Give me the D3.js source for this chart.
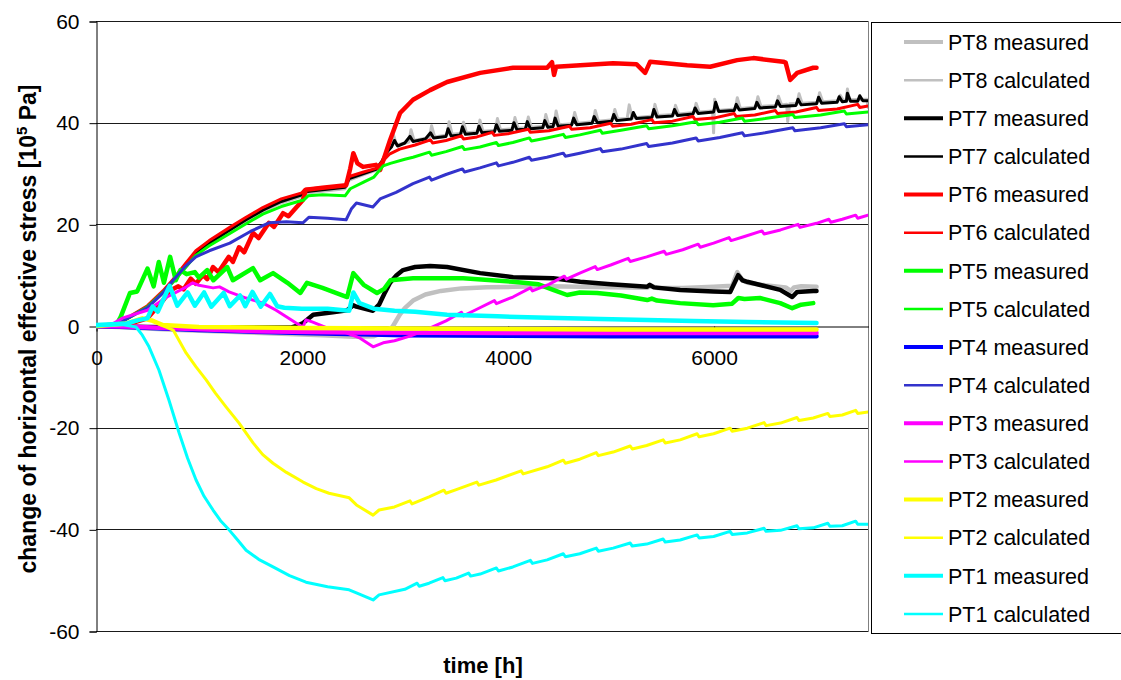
<!DOCTYPE html>
<html>
<head>
<meta charset="utf-8">
<script src="https://cdn.jsdelivr.net/npm/d3@7"></script>
<style>
  html, body { margin: 0; padding: 0; background: #fff; }
  svg { display: block; font-family: "Liberation Sans", Arial, sans-serif; }
</style>
</head>
<body>
<svg id="chart" width="1121" height="680"></svg>
<script>
// ---- data: [time h, change of horizontal effective stress 1e5 Pa] ----
const xTicks = [0, 2000, 4000, 6000];
const yTicks = [-60, -40, -20, 0, 20, 40, 60];

const pt8Measured = [[0,0],[300,-0.3],[800,-0.8],[1500,-1.3],[2200,-1.8],[2500,-2.1],[2700,-2.0],[2800,-1.2],[2880,-0.2],[2950,2.2],[3000,3.5],[3080,5.0],[3200,6.2],[3350,6.9],[3550,7.4],[3800,7.6],[4050,7.7],[4400,7.8],[4700,7.7],[5000,7.6],[5350,7.5],[5400,7.9],[5450,7.5],[5700,7.5],[6000,7.7],[6180,7.9],[6230,10.6],[6280,9.0],[6330,8.5],[6500,8.0],[6700,7.6],[6750,6.9],[6780,7.6],[6850,7.8],[7000,7.7]];

const pt8Calculated = [[0,0],[200,0.3],[330,1.7],[500,3.6],[650,6.4],[750,8.6],[870,11.5],[970,14.0],[1100,16.0],[1300,18.6],[1450,20.5],[1620,22.5],[1800,24.2],[2000,25.5],[2030,26.1],[2200,26.5],[2420,27.0],[2460,28.7],[2600,29.8],[2720,30.6],[2780,32.4],[2830,34.3],[2870,35.4],[2890,37.6],[2920,35.6],[3040,36.2],[3060,38.6],[3090,36.5],[3240,37.1],[3260,39.4],[3290,37.2],[3410,37.6],[3430,40.2],[3460,37.7],[3550,37.9],[3570,40.1],[3600,38.0],[3710,38.2],[3730,40.5],[3760,38.3],[3880,38.5],[3900,40.8],[3930,38.6],[4050,38.8],[4070,41.0],[4100,38.9],[4180,39.0],[4200,41.1],[4230,39.1],[4350,39.3],[4370,41.6],[4400,39.4],[4450,39.5],[4470,42.3],[4500,39.6],[4630,39.8],[4650,42.0],[4680,39.9],[4830,40.2],[4850,42.4],[4880,40.3],[5020,40.6],[5040,42.6],[5070,40.7],[5160,40.8],[5180,43.5],[5210,40.9],[5410,41.3],[5430,43.6],[5460,41.4],[5610,41.6],[5630,43.4],[5660,41.7],[5810,42.0],[5830,43.8],[5860,42.1],[5990,42.3],[6000,38.0],[6010,44.6],[6040,42.4],[6210,42.7],[6230,44.9],[6260,42.8],[6410,43.1],[6430,45.1],[6460,43.2],[6610,43.4],[6630,45.2],[6660,43.5],[6710,43.6],[6720,40.2],[6740,43.7],[6810,43.7],[6830,45.7],[6860,43.8],[7010,44.0],[7030,45.9],[7060,44.1],[7210,44.3],[7230,45.4],[7260,44.4],[7290,44.4],[7300,46.6],[7320,44.5],[7490,44.6],[7500,43.0]];

const pt7Measured = [[0,0],[500,-0.2],[1000,-0.3],[1900,-0.3],[1950,0],[2012,0.6],[2110,2.2],[2300,2.7],[2440,3.1],[2500,4.1],[2530,3.8],[2690,3.0],[2750,4.2],[2800,6.3],[2857,8.5],[2920,10.0],[2983,11.0],[3100,11.6],[3246,11.8],[3411,11.6],[3732,10.4],[4052,9.6],[4441,9.4],[4704,8.7],[5000,8.2],[5355,7.7],[5380,8.1],[5420,7.6],[5675,7.1],[6000,6.8],[6161,6.7],[6239,10.0],[6280,9.0],[6327,8.7],[6647,7.1],[6764,5.7],[6812,6.7],[6968,6.9],[7000,6.9]];

const pt7Calculated = [[0,0],[200,0.3],[330,1.8],[500,3.8],[650,6.6],[750,8.8],[870,11.8],[970,14.3],[1100,16.3],[1300,18.9],[1450,20.8],[1620,22.8],[1800,24.5],[2000,25.8],[2030,26.4],[2200,26.8],[2420,27.3],[2460,29.0],[2600,30.0],[2720,30.8],[2780,32.5],[2830,34.3],[2870,35.2],[2900,36.5],[2930,35.4],[3000,36.0],[3050,37.3],[3080,36.3],[3200,36.8],[3250,38.0],[3280,37.0],[3400,37.3],[3420,38.8],[3450,37.4],[3540,37.6],[3560,39.2],[3590,37.7],[3700,37.9],[3720,39.3],[3750,38.0],[3870,38.2],[3890,39.6],[3920,38.3],[4040,38.5],[4060,40.0],[4090,38.6],[4170,38.7],[4190,40.2],[4220,38.8],[4340,39.0],[4360,40.4],[4390,39.1],[4440,39.2],[4460,40.9],[4490,39.3],[4620,39.5],[4640,40.9],[4670,39.6],[4820,39.9],[4840,41.2],[4870,40.0],[5010,40.3],[5030,41.6],[5060,40.4],[5200,40.7],[5220,42.0],[5250,40.8],[5400,41.0],[5420,42.6],[5450,41.1],[5600,41.3],[5620,42.6],[5650,41.4],[5800,41.7],[5820,42.9],[5850,41.8],[6000,42.1],[6020,44.0],[6050,42.2],[6200,42.4],[6220,43.6],[6250,42.5],[6400,42.8],[6420,44.0],[6450,42.9],[6600,43.1],[6620,44.3],[6650,43.2],[6800,43.4],[6820,44.6],[6850,43.5],[7000,43.7],[7020,45.0],[7050,43.8],[7200,44.0],[7220,45.1],[7250,44.1],[7290,44.2],[7300,45.8],[7330,44.2],[7400,44.2],[7420,45.3],[7450,44.3],[7500,44.3]];

const pt6Measured = [[0,0],[300,0.3],[500,1.5],[650,5.0],[720,7.0],[800,7.8],[850,7.2],[920,9.3],[970,8.3],[1040,10.0],[1080,9.2],[1137,11.6],[1190,10.6],[1290,13.6],[1330,12.6],[1390,15.5],[1440,14.5],[1526,18.3],[1580,17.3],[1680,20.3],[1730,19.5],[1817,22.2],[1870,21.6],[2010,24.8],[2040,26.8],[2200,27.2],[2430,27.7],[2470,31.0],[2500,34.0],[2540,32.0],[2594,31.3],[2720,31.7],[2760,30.7],[2857,36.6],[2954,41.9],[3080,44.5],[3246,46.4],[3411,48.0],[3732,49.8],[4052,50.8],[4383,50.8],[4430,51.9],[4450,49.4],[4470,51.0],[4704,51.3],[5024,51.7],[5250,51.5],[5335,49.8],[5384,52.0],[5743,51.3],[5967,51.0],[6229,52.3],[6385,52.7],[6676,52.0],[6700,51.8],[6744,48.4],[6812,49.8],[6968,50.8],[7000,50.8]];

const pt6Calculated = [[0,0],[200,0.3],[330,1.9],[500,4.0],[650,6.9],[750,9.2],[870,12.3],[970,14.8],[1100,16.8],[1300,19.4],[1450,21.3],[1620,23.3],[1800,25.0],[2000,26.2],[2030,26.9],[2200,27.2],[2420,27.6],[2460,29.4],[2600,30.3],[2720,31.0],[2780,32.3],[2850,33.8],[2950,34.8],[3100,35.6],[3250,36.6],[3270,36.0],[3400,36.5],[3550,37.4],[3570,36.8],[3700,37.2],[3850,38.1],[3870,37.5],[4000,37.8],[4200,38.7],[4220,38.1],[4400,38.4],[4600,39.3],[4620,38.7],[4800,39.0],[5000,39.9],[5020,39.3],[5200,39.7],[5400,40.6],[5420,40.0],[5600,40.3],[5800,41.2],[5820,40.6],[6000,40.9],[6200,41.8],[6220,41.2],[6400,41.5],[6600,42.4],[6620,41.8],[6800,42.1],[7000,43.0],[7020,42.4],[7200,42.7],[7400,43.6],[7420,43.0],[7500,43.3]];

const pt5Measured = [[0,0],[200,0.3],[240,1.8],[330,6.5],[400,6.8],[500,11.3],[560,7.8],[610,12.6],[660,8.5],[720,13.6],[775,9.0],[820,11.0],[880,10.2],[960,10.6],[1000,9.5],[1080,11.0],[1140,9.0],[1275,11.6],[1330,9.0],[1525,11.4],[1595,9.0],[1720,10.4],[1860,8.5],[1985,6.5],[2050,8.5],[2200,7.5],[2440,5.7],[2500,10.4],[2600,8.1],[2730,6.5],[2800,7.3],[2860,9.0],[3080,9.4],[3567,9.4],[4052,8.7],[4300,8.2],[4441,7.1],[4577,6.1],[4700,6.6],[4869,6.5],[5100,6.0],[5355,5.1],[5400,5.4],[5450,5.0],[5675,4.5],[5996,4.1],[6180,4.4],[6240,5.5],[6300,5.3],[6450,5.5],[6550,5.0],[6647,4.5],[6764,3.5],[6850,4.2],[6968,4.5]];

const pt5Calculated = [[0,0],[200,0.3],[330,1.8],[500,3.8],[650,6.6],[750,8.7],[870,11.5],[970,13.9],[1100,15.8],[1300,18.2],[1450,20.0],[1620,22.0],[1800,23.5],[1980,24.6],[2020,24.8],[2060,25.6],[2200,25.8],[2420,25.6],[2470,27.0],[2600,28.3],[2700,29.3],[2790,31.5],[2860,32.0],[3000,32.8],[3080,33.2],[3240,34.2],[3260,33.6],[3400,34.3],[3560,35.3],[3580,34.7],[3730,35.2],[3890,36.1],[3910,35.5],[4050,36.1],[4210,37.0],[4230,36.4],[4380,37.0],[4540,37.7],[4560,37.1],[4700,37.6],[4900,38.5],[4920,37.9],[5100,38.5],[5350,39.4],[5370,38.8],[5600,39.4],[5830,40.2],[5850,39.6],[6060,40.1],[6280,40.9],[6300,40.3],[6500,40.8],[6770,41.6],[6790,41.0],[7040,41.5],[7270,42.3],[7290,41.7],[7500,42.1]];

const pt4Measured = [[0,0],[300,-0.2],[1000,-0.8],[2000,-1.4],[3000,-1.8],[5000,-2.0],[7000,-2.0]];

const pt4Calculated = [[0,0],[200,0.3],[330,1.8],[500,3.6],[650,6.5],[750,9.0],[870,11.8],[970,13.6],[1100,14.8],[1300,16.3],[1500,18.6],[1680,20.3],[1850,20.5],[2010,20.3],[2070,21.4],[2250,21.2],[2430,20.9],[2480,23.0],[2530,24.2],[2690,23.4],[2760,25.0],[2915,26.3],[3080,28.0],[3240,29.3],[3260,28.7],[3400,29.8],[3560,30.9],[3580,30.3],[3730,31.1],[3890,32.1],[3910,31.5],[4050,32.2],[4210,33.2],[4230,32.6],[4380,33.2],[4540,34.0],[4560,33.4],[4700,34.0],[4900,34.9],[4920,34.3],[5100,34.8],[5350,35.9],[5370,35.3],[5600,36.0],[5830,37.0],[5850,36.4],[6060,37.1],[6280,38.0],[6300,37.4],[6500,38.0],[6770,39.0],[6790,38.4],[7040,39.0],[7270,39.8],[7290,39.2],[7500,39.6]];

const pt3Measured = [[0,0],[300,-0.1],[800,-0.5],[1500,-1.0],[2500,-1.3],[4000,-1.4],[7000,-1.4]];

const pt3Calculated = [[0,0],[150,0.3],[262,1.6],[500,3.1],[690,5.7],[880,7.7],[940,8.5],[1000,8.0],[1137,7.5],[1200,7.7],[1293,6.7],[1458,5.5],[1623,4.5],[1750,3.1],[1944,0.6],[2010,-0.2],[2040,1.2],[2100,0.8],[2250,-0.4],[2440,-1.4],[2566,-2.4],[2692,-4.1],[2790,-3.3],[2900,-2.9],[3050,-2.0],[3200,-0.8],[3400,1.0],[3550,2.7],[3570,2.0],[3700,3.3],[3870,5.0],[3890,4.4],[4050,5.7],[4220,7.5],[4240,6.9],[4400,8.2],[4550,9.8],[4570,9.2],[4700,10.4],[4850,11.7],[4870,11.1],[5000,12.0],[5170,13.3],[5190,12.7],[5350,13.6],[5520,14.7],[5540,14.1],[5700,15.0],[5850,16.1],[5870,15.5],[6000,16.3],[6150,17.4],[6170,16.8],[6300,17.6],[6470,18.7],[6490,18.1],[6650,18.9],[6820,20.0],[6840,19.4],[7000,20.2],[7120,21.0],[7140,20.4],[7250,21.0],[7380,21.8],[7400,21.2],[7500,21.8]];

const pt2Measured = [[0,0],[300,0.5],[450,1.5],[550,1.0],[650,0.2],[1000,-0.2],[2000,-0.4],[3000,-0.5],[5000,-0.7],[7000,-0.7]];

const pt2Calculated = [[0,0],[300,0.4],[450,1.5],[550,1.2],[620,0.3],[750,-0.8],[875,-5.3],[970,-8.0],[1070,-10.6],[1160,-13.2],[1263,-15.9],[1390,-19.1],[1526,-23.0],[1620,-25.3],[1720,-27.0],[1850,-28.8],[2012,-30.7],[2140,-32.0],[2264,-32.9],[2460,-33.8],[2530,-35.2],[2692,-37.2],[2750,-36.2],[2900,-35.6],[3050,-34.4],[3070,-35.0],[3236,-33.6],[3380,-32.3],[3400,-32.9],[3500,-32.2],[3700,-30.7],[3720,-31.3],[3887,-30.3],[4130,-28.5],[4150,-29.1],[4383,-27.7],[4540,-26.4],[4560,-27.0],[4700,-26.2],[4860,-24.9],[4880,-25.5],[5024,-24.8],[5190,-23.6],[5210,-24.2],[5350,-23.5],[5510,-22.4],[5530,-23.0],[5675,-22.4],[5840,-21.2],[5860,-21.8],[6000,-21.2],[6160,-20.1],[6180,-20.7],[6327,-20.1],[6490,-19.0],[6510,-19.6],[6650,-19.1],[6810,-18.0],[6830,-18.6],[6968,-18.1],[7110,-17.2],[7130,-17.8],[7250,-17.5],[7380,-16.6],[7400,-17.2],[7500,-16.9]];

const pt1Measured = [[0,0.2],[300,0.5],[420,1.2],[500,1.5],[550,3.8],[600,2.8],[715,7.9],[790,4.0],[890,6.6],[960,4.0],[1050,6.6],[1120,3.8],[1240,6.5],[1300,3.9],[1400,6.0],[1450,3.9],[1520,6.7],[1600,3.8],[1690,6.3],[1760,3.9],[1830,3.6],[2000,3.4],[2250,3.4],[2460,3.0],[2500,6.6],[2560,4.5],[2700,3.4],[2900,3.0],[3100,2.8],[3411,2.2],[3900,1.9],[4383,1.6],[4900,1.4],[5355,1.2],[5800,1.0],[6327,0.8],[7000,0.6]];

const pt1Calculated = [[0,0],[250,0.3],[389,-0.2],[450,-1.8],[515,-4.1],[612,-8.7],[709,-14.6],[807,-21.0],[890,-26.0],[972,-30.3],[1050,-33.5],[1137,-36.2],[1210,-38.3],[1293,-40.1],[1380,-42.2],[1458,-44.1],[1580,-45.9],[1720,-47.4],[1880,-49.1],[2040,-50.4],[2250,-51.3],[2459,-51.9],[2530,-52.5],[2692,-53.9],[2750,-52.9],[3000,-51.8],[3120,-50.6],[3140,-51.2],[3236,-50.6],[3370,-49.5],[3390,-50.1],[3500,-49.6],[3620,-48.6],[3640,-49.2],[3732,-48.8],[3890,-47.6],[3910,-48.2],[4050,-47.4],[4220,-46.1],[4240,-46.7],[4383,-46.0],[4540,-44.8],[4560,-45.4],[4700,-44.8],[4860,-43.7],[4880,-44.3],[5024,-43.7],[5190,-42.7],[5210,-43.3],[5350,-42.9],[5510,-41.9],[5530,-42.5],[5675,-42.1],[5840,-41.1],[5860,-41.7],[6000,-41.4],[6160,-40.4],[6180,-41.0],[6327,-40.7],[6490,-39.8],[6510,-40.4],[6650,-40.2],[6810,-39.3],[6830,-39.9],[6968,-39.7],[7110,-38.8],[7130,-39.4],[7250,-39.3],[7380,-38.4],[7400,-39.0],[7500,-39.0]];

// series in drawing / legend order
const seriesNames = ["PT8 measured","PT8 calculated","PT7 measured","PT7 calculated","PT6 measured","PT6 calculated","PT5 measured","PT5 calculated","PT4 measured","PT4 calculated","PT3 measured","PT3 calculated","PT2 measured","PT2 calculated","PT1 measured","PT1 calculated"];
const seriesValues = [pt8Measured, pt8Calculated, pt7Measured, pt7Calculated, pt6Measured, pt6Calculated, pt5Measured, pt5Calculated, pt4Measured, pt4Calculated, pt3Measured, pt3Calculated, pt2Measured, pt2Calculated, pt1Measured, pt1Calculated];
const seriesColors = ["#c0c0c0","#c0c0c0","#000000","#000000","#ff0000","#ff0000","#00ff00","#00ff00","#0000ff","#3333cc","#ff00ff","#ff00ff","#ffff00","#ffff00","#00ffff","#00ffff"];

// ---- layout ----
const svg = d3.select("#chart");
const plot = { left: 96, right: 868, top: 21, bottom: 631 };

const x = d3.scaleLinear().domain([0, 7500]).range([plot.left, plot.right]);
const y = d3.scaleLinear().domain([-60, 60]).range([plot.bottom, plot.top]);

svg.append("rect").attr("width", 1121).attr("height", 680).attr("fill", "#fff");

// horizontal gridlines
svg.append("g").selectAll("line")
  .data(yTicks.filter(d => d !== 0))
  .join("line")
  .attr("x1", plot.left).attr("x2", plot.right)
  .attr("y1", d => Math.round(y(d)) + 0.5).attr("y2", d => Math.round(y(d)) + 0.5)
  .attr("stroke", "#1a1a1a").attr("stroke-width", 1);

// plot-area right border
svg.append("line")
  .attr("x1", plot.right + 0.5).attr("x2", plot.right + 0.5)
  .attr("y1", plot.top).attr("y2", plot.bottom + 1)
  .attr("stroke", "#808080").attr("stroke-width", 1);

// plain hyphen-minus for negative tick labels
const plainNumber = d => String(d);

// y axis
const yAxis = d3.axisLeft(y).tickValues(yTicks).tickSize(7).tickPadding(10).tickFormat(plainNumber);
const gy = svg.append("g").attr("transform", `translate(${plot.left + 0.5},0.5)`).call(yAxis);
gy.select(".domain").attr("stroke", "#000");
gy.selectAll(".tick line").attr("stroke", "#000");
gy.selectAll(".tick text")
  .attr("font-family", "Liberation Sans, Arial, sans-serif")
  .attr("font-size", 21).attr("fill", "#000");

// x axis on the zero line
const xAxis = d3.axisBottom(x).tickValues(xTicks).tickSize(5).tickSizeOuter(0).tickPadding(0).tickFormat(plainNumber);
const gx = svg.append("g").attr("transform", `translate(0.5,${Math.round(y(0)) + 0.5})`).call(xAxis);
gx.select(".domain").attr("stroke", "#000");
gx.selectAll(".tick line").attr("stroke", "#000");
gx.selectAll(".tick text")
  .attr("font-family", "Liberation Sans, Arial, sans-serif")
  .attr("font-size", 21).attr("fill", "#000")
  .attr("dy", null).attr("y", 38);

// series lines
svg.append("clipPath").attr("id", "plotClip")
  .append("rect").attr("x", plot.left).attr("y", plot.top - 3)
  .attr("width", plot.right - plot.left).attr("height", plot.bottom - plot.top + 6);

const line = d3.line().x(d => x(d[0])).y(d => y(d[1]));
const gl = svg.append("g").attr("clip-path", "url(#plotClip)");
seriesValues.forEach((vals, i) => {
  const measured = seriesNames[i].endsWith("measured");
  gl.append("path")
    .attr("d", line(vals))
    .attr("fill", "none")
    .attr("stroke", seriesColors[i])
    .attr("stroke-width", measured ? 4.5 : 3)
    .attr("stroke-linejoin", "round")
    .attr("stroke-linecap", "round");
});

// axis titles
svg.append("text")
  .attr("transform", "translate(36,329) rotate(-90)")
  .attr("text-anchor", "middle")
  .attr("font-size", 23).attr("font-weight", "bold")
  .call(t => {
    t.append("tspan").text("change of horizontal effective stress [10");
    t.append("tspan").attr("font-size", 15).attr("dy", -9).text("5");
    t.append("tspan").attr("dy", 9).text(" Pa]");
  });

svg.append("text")
  .attr("x", 483).attr("y", 673)
  .attr("text-anchor", "middle")
  .attr("font-size", 22).attr("font-weight", "bold")
  .text("time [h]");

// legend
const legend = svg.append("g");
legend.append("rect")
  .attr("x", 871.5).attr("y", 22.5).attr("width", 300).attr("height", 611)
  .attr("fill", "#fff").attr("stroke", "#000").attr("stroke-width", 1);

const items = legend.selectAll("g.item").data(seriesNames).join("g")
  .attr("class", "item")
  .attr("transform", (d, i) => `translate(0,${42 + i * 38.13})`);
items.append("line")
  .attr("x1", 904).attr("x2", 943).attr("y1", 0).attr("y2", 0)
  .attr("stroke", (d, i) => seriesColors[i])
  .attr("stroke-width", d => d.endsWith("measured") ? 4 : 2.5);
items.append("text")
  .attr("x", 948).attr("y", 0).attr("dy", "0.36em")
  .attr("font-size", 21.5).attr("fill", "#000")
  .text(d => d);
</script>
</body>
</html>
